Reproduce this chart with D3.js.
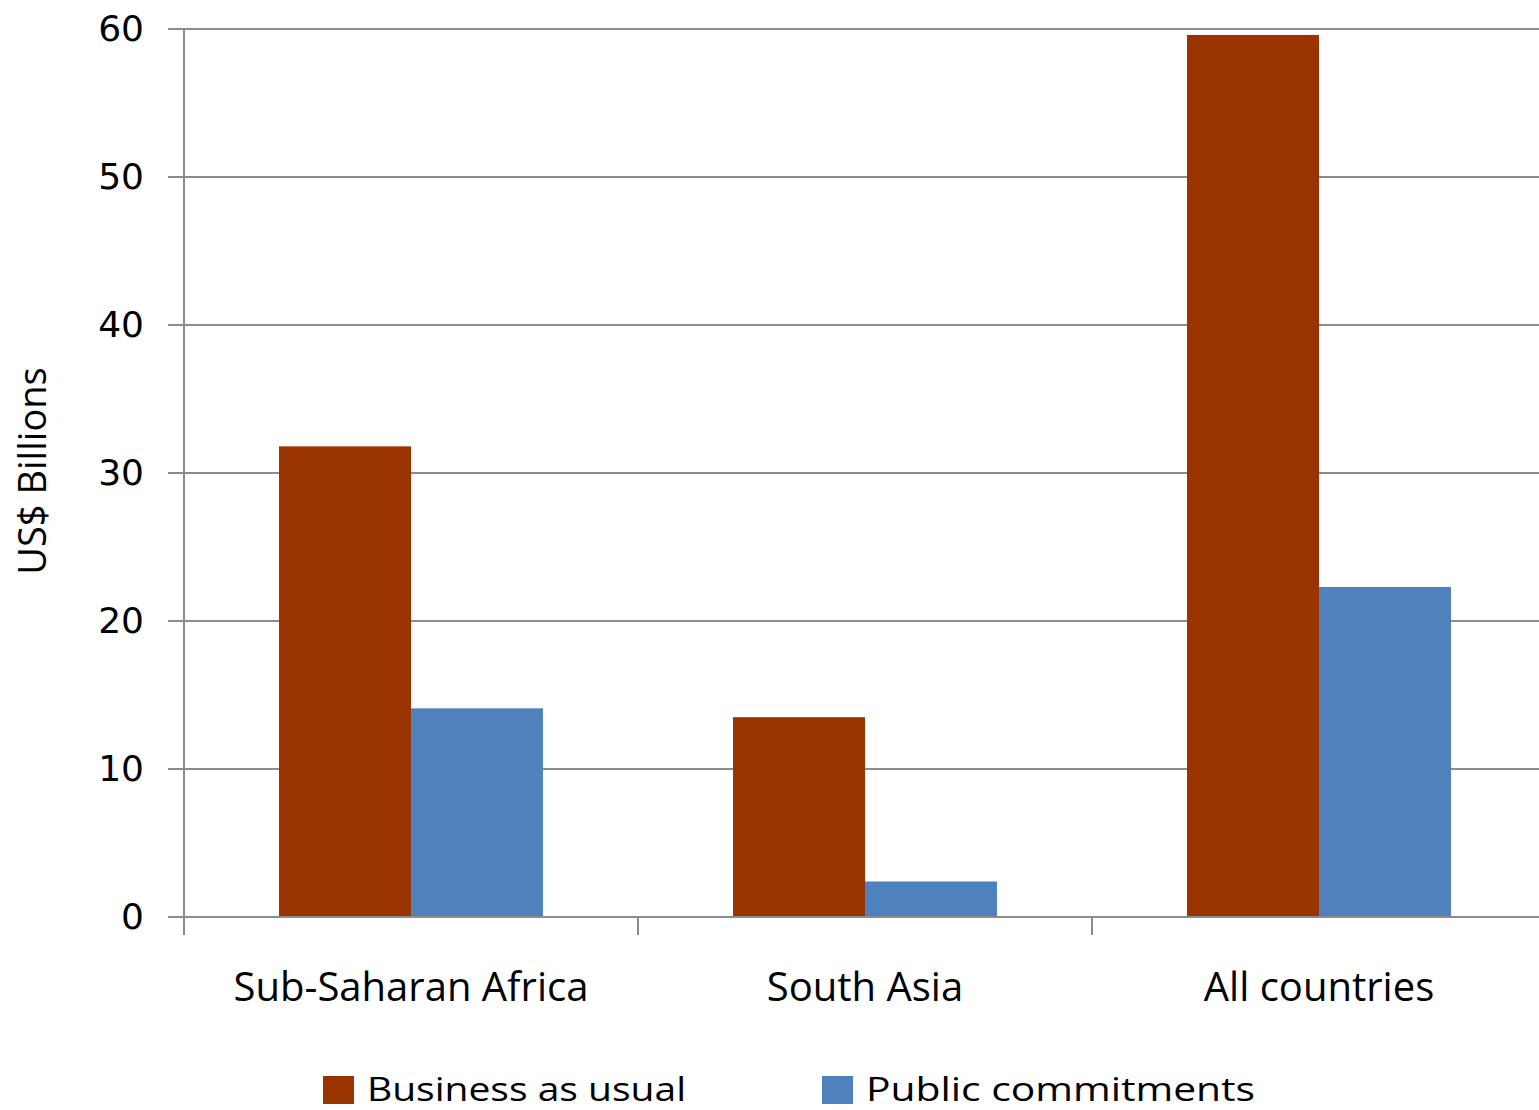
<!DOCTYPE html>
<html>
<head>
<meta charset="utf-8">
<script src="https://cdn.jsdelivr.net/npm/d3@7"></script>
<style>
  body { margin: 0; background: #fff; }
  svg { display: block; }
</style>
</head>
<body>
<div class="chart-container"></div>
<script>
const categories = ['Sub-Saharan Africa', 'South Asia', 'All countries'];
const seriesNames = ['Business as usual', 'Public commitments'];
const businessAsUsual = [31.8, 13.5, 59.6];
const publicCommitments = [14.1, 2.4, 22.3];
const yTicks = [0, 10, 20, 30, 40, 50, 60];
const colors = ['#993300', '#4f81bd'];

const width = 1539, height = 1110;
const margin = { top: 29, left: 184, bottom: 193 };
const plotRight = 1546; // plot runs slightly past the right edge
const plotBottom = height - margin.bottom;

const svg = d3.select('.chart-container')
    .append('svg')
    .attr('width', width)
    .attr('height', height);

const x = d3.scaleBand()
    .domain(categories)
    .range([margin.left, plotRight])
    .paddingInner(0)
    .paddingOuter(0);

const inner = d3.scaleBand()
    .domain(seriesNames)
    .range([0, x.bandwidth()])
    .paddingInner(0)
    .paddingOuter(0.72);

const y = d3.scaleLinear()
    .domain([0, 60])
    .range([plotBottom, margin.top]);

// gridlines
svg.append('g')
    .selectAll('line')
    .data(yTicks)
    .enter()
    .append('line')
    .attr('x1', margin.left - 16)
    .attr('x2', width)
    .attr('y1', d => y(d))
    .attr('y2', d => y(d))
    .attr('stroke', '#8c8c8c')
    .attr('stroke-width', 2);

// y axis
const yAxis = svg.append('g')
    .attr('transform', `translate(${margin.left},0)`)
    .call(d3.axisLeft(y).tickValues(yTicks).tickSize(0).tickPadding(40));
yAxis.select('.domain').remove();
yAxis.selectAll('text')
    .attr('font-family', 'DejaVu Sans, sans-serif')
    .attr('font-size', 36)
    .attr('fill', '#000');
svg.append('line')
    .attr('x1', margin.left).attr('x2', margin.left)
    .attr('y1', margin.top).attr('y2', plotBottom + 18)
    .attr('stroke', '#8c8c8c').attr('stroke-width', 2);

// x axis category ticks
svg.append('g')
    .selectAll('line')
    .data(categories)
    .enter()
    .append('line')
    .attr('x1', d => x(d))
    .attr('x2', d => x(d))
    .attr('y1', plotBottom)
    .attr('y2', plotBottom + 18)
    .attr('stroke', '#8c8c8c')
    .attr('stroke-width', 2);

// bars
const rows = categories.map((c, i) => ({ cat: c, vals: [businessAsUsual[i], publicCommitments[i]] }));
const groups = svg.append('g')
    .selectAll('g')
    .data(rows)
    .enter()
    .append('g')
    .attr('transform', d => `translate(${x(d.cat)},0)`);
groups.selectAll('rect')
    .data(d => d.vals.map((v, j) => ({ name: seriesNames[j], v: v, j: j })))
    .enter()
    .append('rect')
    .attr('x', d => inner(d.name))
    .attr('width', inner.bandwidth())
    .attr('y', d => y(d.v))
    .attr('height', d => y(0) - y(d.v))
    .attr('fill', d => colors[d.j]);

// zero line on top of bars
svg.append('line')
    .attr('x1', margin.left - 16).attr('x2', width)
    .attr('y1', y(0)).attr('y2', y(0))
    .attr('stroke', '#8c8c8c').attr('stroke-width', 2);

// category labels
svg.append('g')
    .selectAll('text')
    .data(categories)
    .enter()
    .append('text')
    .attr('x', d => x(d) + x.bandwidth() / 2)
    .attr('y', 1001)
    .attr('text-anchor', 'middle')
    .attr('font-family', 'Open Sans, sans-serif')
    .attr('font-size', 40)
    .text(d => d);

// y title
svg.append('text')
    .attr('transform', 'translate(46,471) rotate(-90)')
    .attr('text-anchor', 'middle')
    .attr('font-family', 'Open Sans, sans-serif')
    .attr('font-size', 38)
    .text('US$ Billions');

// legend
const legendX = [323, 822];
const legendW = [319, 389];
const legend = svg.append('g')
    .selectAll('g')
    .data(seriesNames)
    .enter()
    .append('g')
    .attr('transform', (d, i) => `translate(${legendX[i]},1076)`);
legend.append('rect')
    .attr('width', 31)
    .attr('height', 28)
    .attr('fill', (d, i) => colors[i]);
legend.append('text')
    .attr('x', 44)
    .attr('y', 25)
    .attr('font-family', 'Open Sans, sans-serif')
    .attr('font-size', 33)
    .attr('textLength', (d, i) => legendW[i])
    .attr('lengthAdjust', 'spacingAndGlyphs')
    .text(d => d);
</script>
</body>
</html>
